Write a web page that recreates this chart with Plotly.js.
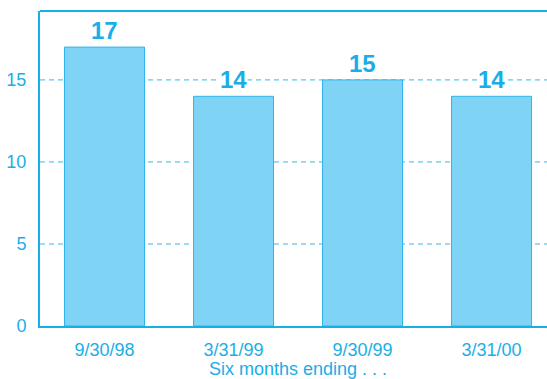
<!DOCTYPE html>
<html><head><meta charset="utf-8">
<script src="https://cdn.plot.ly/plotly-3.0.1.min.js"></script>
<style>html,body{margin:0;padding:0;overflow:hidden;background:#fff}</style>
</head><body><div id="chart"></div>
<script>
var categories = ["9/30/98", "3/31/99", "9/30/99", "3/31/00"];
var values = [17, 14, 15, 14];
var yTicks = [0, 5, 10, 15];
var xTitle = "Six months ending . . .";

var blue = "#1aaee8";
var trace = {
  type: "bar", x: categories, y: values,
  marker: {color: "#7fd4f5", line: {color: "#2fb5ea", width: 1}},
  hoverinfo: "none"
};
var annotations = categories.map(function(c, i){
  return {x: c, y: values[i], xref: "x", yref: "y", text: "<b>" + values[i] + "</b>",
    showarrow: false, yanchor: "bottom", yshift: 2, bgcolor: "#ffffff", borderpad: 0,
    font: {family: "Liberation Sans, Arial, sans-serif", size: 24, color: blue}};
});
annotations.push({x: (categories.length - 1) / 2, xref: "x", y: 0, yref: "paper",
  yanchor: "middle", yshift: -43, showarrow: false, text: xTitle,
  font: {family: "Liberation Sans, Arial, sans-serif", size: 18, color: blue}});
var gridShapes = yTicks.filter(function(v){ return v > 0; }).map(function(v){
  return {type: "line", xref: "paper", yref: "y", x0: 0, x1: 1, y0: v, y1: v, layer: "below",
    line: {color: "#33b8ec", width: 1, dash: "5px,4px"}};
});
var layout = {
  width: 547, height: 379,
  margin: {l: 40, r: 0, t: 11, b: 53},
  paper_bgcolor: "#fff", plot_bgcolor: "#fff",
  bargap: 0.38, showlegend: false,
  font: {family: "Liberation Sans, Arial, sans-serif", size: 18, color: blue},
  xaxis: {type: "category", range: [-0.5, 3.43], showline: true, linecolor: blue, linewidth: 2,
    showgrid: false, ticks: "", ticklabelstandoff: 6, tickfont: {size: 18, color: blue}},
  yaxis: {range: [0, 19.2], tickvals: yTicks, showline: true, linecolor: blue, linewidth: 2,
    showgrid: false, zeroline: false, ticks: "", ticklabelstandoff: 8,
    tickfont: {size: 18, color: blue}},
  shapes: gridShapes.concat([{type: "line", xref: "paper", yref: "paper", x0: 0, x1: 1, y0: 1, y1: 1,
    line: {color: blue, width: 2}}]),
  annotations: annotations
};
Plotly.newPlot("chart", [trace], layout, {staticPlot: true, displayModeBar: false});
</script></body></html>
